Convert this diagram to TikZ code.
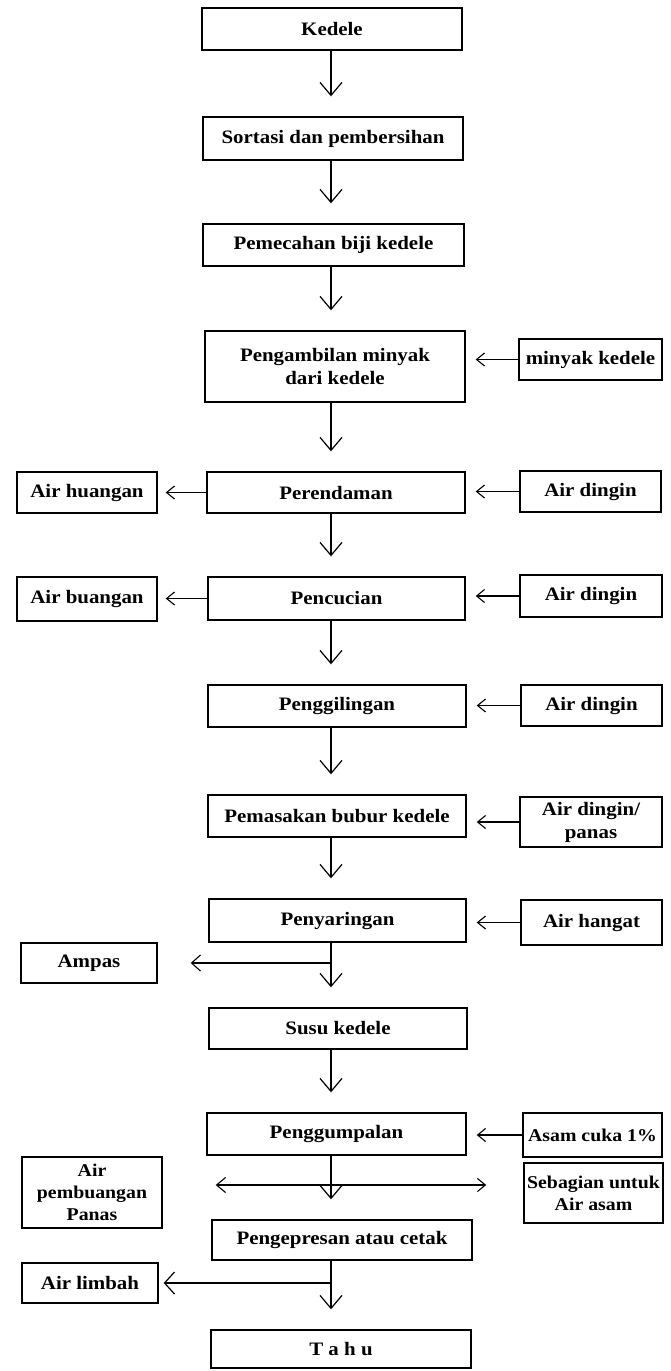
\documentclass[tikz,border=0pt]{standalone}
\usepackage{fontspec}
\setmainfont{Liberation Serif}[FakeStretch=1.1]
\usetikzlibrary{arrows.meta}
\begin{document}
\begin{tikzpicture}[x=1pt,y=-1pt,
  every node/.style={font=\bfseries\fontsize{19}{23}\selectfont},
  smalltext/.style={font=\bfseries\fontsize{18}{22}\selectfont},
  pbox/.style={draw, line width=1.4pt, inner sep=0pt, align=center},
  downarr/.style={line width=1.2pt, -{Straight Barb[length=13pt,width=22pt,line width=1.2pt]}, shorten >=20pt},
  sidearr/.style={line width=1.2pt, -{Straight Barb[length=8pt,width=13pt,line width=1.1pt]}}
]
\useasboundingbox (0,0) rectangle (671,1371);
\coordinate (axis) at (331,0);
% main column
\node[pbox, minimum width=260pt, minimum height=42pt] (ked) at (332,29) {Kedele};
\node[pbox, minimum width=260pt, minimum height=43pt] (sor) at (333,138.5) {Sortasi dan pembersihan};
\node[pbox, minimum width=261pt, minimum height=42pt] (pem) at (333.5,245) {Pemecahan biji kedele};
\node[pbox, minimum width=260pt, minimum height=71pt] (pga) at (335,366.5) {Pengambilan minyak\\dari kedele};
\node[pbox, minimum width=258pt, minimum height=41pt] (per) at (336,492.5) {Perendaman};
\node[pbox, minimum width=257pt, minimum height=43pt] (pcu) at (336.5,598.5) {Pencucian};
\node[pbox, minimum width=258pt, minimum height=42pt] (pgl) at (337,706) {Penggilingan};
\node[pbox, minimum width=258pt, minimum height=42pt] (pms) at (337,816) {Pemasakan bubur kedele};
\node[pbox, minimum width=257pt, minimum height=43pt] (pny) at (337.5,920.5) {Penyaringan};
\node[pbox, minimum width=258pt, minimum height=41pt] (sus) at (338,1028.5) {Susu kedele};
\node[pbox, minimum width=259pt, minimum height=42pt] (pgu) at (336.5,1134) {Penggumpalan};
\node[pbox, minimum width=260pt, minimum height=40pt] (pgp) at (342,1240) {Pengepresan atau cetak};
\node[pbox, minimum width=260pt, minimum height=38pt] (tahu) at (341,1349) {T a h u};
% left column
\node[pbox, minimum width=140pt, minimum height=41pt] (ah) at (87,492.5) {Air huangan};
\node[pbox, minimum width=140pt, minimum height=44pt] (ab) at (87,599) {Air buangan};
\node[pbox, minimum width=136pt, minimum height=40pt] (amp) at (89,963) {Ampas};
\node[pbox, smalltext, minimum width=140pt, minimum height=71pt] (apb) at (92,1192.5) {Air\\pembuangan\\Panas};
\node[pbox, minimum width=136pt, minimum height=40pt] (al) at (90,1283) {Air limbah};
% right column
\node[pbox, minimum width=143pt, minimum height=41pt] (mk) at (590.5,359.5) {minyak kedele};
\node[pbox, minimum width=141pt, minimum height=41pt] (ad1) at (590.5,491.5) {Air dingin};
\node[pbox, minimum width=142pt, minimum height=42pt] (ad2) at (591,596) {Air dingin};
\node[pbox, minimum width=141pt, minimum height=41pt] (ad3) at (591.5,705.5) {Air dingin};
\node[pbox, minimum width=142pt, minimum height=50pt] (adp) at (591,822) {Air dingin/\\panas};
\node[pbox, minimum width=141pt, minimum height=45pt] (ahg) at (591.5,922.5) {Air hangat};
\node[pbox, smalltext, minimum width=139pt, minimum height=44pt] (ac) at (592.5,1135) {Asam cuka 1\%};
\node[pbox, smalltext, minimum width=139pt, minimum height=60pt] (sb) at (593.5,1193) {Sebagian untuk\\Air asam};
% main arrows
\draw[downarr] (ked.south -| axis) -- (sor.north -| axis);
\draw[downarr] (sor.south -| axis) -- (pem.north -| axis);
\draw[downarr] (pem.south -| axis) -- (pga.north -| axis);
\draw[downarr] (pga.south -| axis) -- (per.north -| axis);
\draw[downarr] (per.south -| axis) -- (pcu.north -| axis);
\draw[downarr] (pcu.south -| axis) -- (pgl.north -| axis);
\draw[downarr] (pgl.south -| axis) -- (pms.north -| axis);
\draw[downarr] (pms.south -| axis) -- (pny.north -| axis);
\draw[downarr] (pny.south -| axis) -- (sus.north -| axis);
\draw[downarr] (sus.south -| axis) -- (pgu.north -| axis);
\draw[downarr] (pgu.south -| axis) -- (pgp.north -| axis);
\draw[downarr] (pgp.south -| axis) -- (tahu.north -| axis);
% inputs from the right
\draw[sidearr, shorten >=10pt] (mk.west) -- (mk.west -| pga.east);
\draw[sidearr, shorten >=10pt] (ad1.west) -- (ad1.west -| per.east);
\draw[sidearr, shorten >=10pt] (ad2.west) -- (ad2.west -| pcu.east);
\draw[sidearr, shorten >=10pt] (ad3.west) -- (ad3.west -| pgl.east);
\draw[sidearr, shorten >=10pt] (adp.west) -- (adp.west -| pms.east);
\draw[sidearr, shorten >=10pt] (ahg.west) -- (ahg.west -| pny.east);
\draw[sidearr, shorten >=10pt] (ac.west) -- (ac.west -| pgu.east);
% outputs to the left
\draw[sidearr, shorten >=8pt] (per.west) -- (per.west -| ah.east);
\draw[sidearr, shorten >=8pt] (pcu.west) -- (pcu.west -| ab.east);
% branches
\coordinate (b1) at (331,963);
\coordinate (b2) at (331,1185);
\coordinate (b3) at (331,1283);
\draw[line width=1.2pt, -{Straight Barb[length=9pt,width=16pt,line width=1.1pt]}, shorten >=33pt] (b1) -- (b1 -| amp.east);
\draw[line width=1.2pt, -{Straight Barb[length=9pt,width=15pt,line width=1.1pt]}, shorten >=53pt] (b2) -- (b2 -| apb.east);
\draw[line width=1.2pt, -{Straight Barb[length=8pt,width=13pt,line width=1.1pt]}, shorten >=37pt] (b2) -- (b2 -| sb.west);
\draw[line width=1.2pt, -{Straight Barb[length=10pt,width=22pt,line width=1.2pt]}, shorten >=5pt] (b3) -- (b3 -| al.east);
\end{tikzpicture}
\end{document}
